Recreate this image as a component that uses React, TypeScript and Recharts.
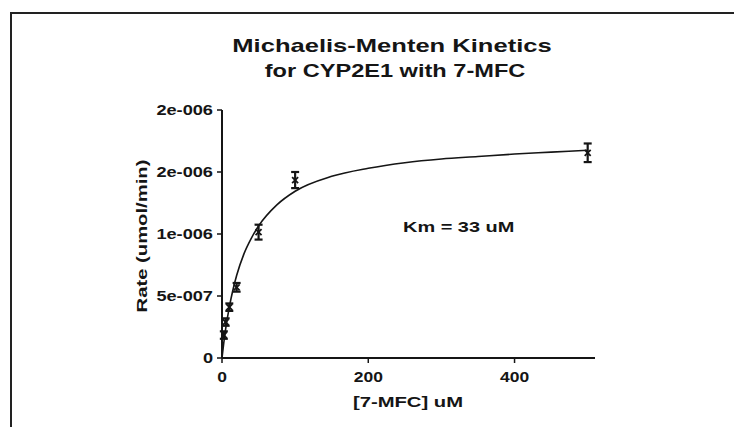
import React from "react";
import { ComposedChart, Line, Scatter, XAxis, YAxis, ErrorBar } from "recharts";

// Measured points: substrate concentration (uM), rate (umol/min), SEM
const concentrations = [2.5, 5, 10, 20, 50, 100, 500];
const rates = [0.185e-6, 0.29e-6, 0.41e-6, 0.57e-6, 1.015e-6, 1.435e-6, 1.655e-6];
const errors = [0.03e-6, 0.03e-6, 0.03e-6, 0.035e-6, 0.06e-6, 0.065e-6, 0.075e-6];

// Fitted curve
const curveX = [0, 2.5, 5, 10, 15, 20, 30, 40, 50, 75, 100, 150, 200, 250, 300, 350, 400, 450, 500];
const curveY = [0, 0.125e-6, 0.235e-6, 0.41e-6, 0.55e-6, 0.665e-6, 0.84e-6, 0.965e-6, 1.065e-6, 1.235e-6, 1.345e-6, 1.465e-6, 1.53e-6, 1.575e-6, 1.605e-6, 1.625e-6, 1.645e-6, 1.66e-6, 1.675e-6];

const xTicks = [0, 200, 400];
const xTickLabels = ["0", "200", "400"];
const yTicks = [0, 5e-7, 1e-6, 1.5e-6, 2e-6];
const yTickLabels = ["0", "5e-007", "1e-006", "2e-006", "2e-006"];

const titleLine1 = "Michaelis-Menten Kinetics";
const titleLine2 = "for CYP2E1 with 7-MFC";
const xLabel = "[7-MFC] uM";
const yLabel = "Rate (umol/min)";
const annotation = "Km = 33 uM";

const pointData = concentrations.map((x, i) => ({ x, y: rates[i], err: errors[i] }));
const curveData = curveX.map((x, i) => ({ x, y: curveY[i] }));

const FONT = "'Liberation Sans', Arial, sans-serif";
const INK = "#151515";

function SText(props: {
  x: number; y: number; text: string; size: number; sx: number; rotate?: number;
  anchor?: "start" | "middle" | "end"; weight?: string;
}) {
  const { x, y, text, size, sx, rotate = 0, anchor = "middle", weight = "bold" } = props;
  return (
    <g transform={`translate(${x},${y}) rotate(${rotate}) scale(${sx},1)`}>
      <text
        x={0}
        y={0}
        textAnchor={anchor}
        dominantBaseline="central"
        fontFamily={FONT}
        fontWeight={weight}
        fontSize={size}
        fill={INK}
      >
        {text}
      </text>
    </g>
  );
}

const YTick = (props: any) => {
  const { x, y, payload } = props;
  const idx = yTicks.indexOf(payload.value);
  const label = idx >= 0 ? yTickLabels[idx] : String(payload.value);
  return <SText x={x - 2} y={y} text={label} size={14} sx={1.3} anchor="end" />;
};

const XTick = (props: any) => {
  const { x, y, payload } = props;
  const idx = xTicks.indexOf(payload.value);
  const label = idx >= 0 ? xTickLabels[idx] : String(payload.value);
  return <SText x={x} y={y + 12} text={label} size={14} sx={1.25} anchor="middle" />;
};

const Cross = (props: any) => {
  const { cx, cy } = props;
  if (cx == null || cy == null) return null;
  const s = 3;
  return (
    <g stroke={INK} strokeWidth={1.8}>
      <line x1={cx - s} y1={cy - s} x2={cx + s} y2={cy + s} />
      <line x1={cx - s} y1={cy + s} x2={cx + s} y2={cy - s} />
    </g>
  );
};

export default function App() {
  const W = 742;
  const H = 427;
  return (
    <div style={{ position: "relative", width: W, height: H, marginLeft: -8, marginTop: -8, background: "#fff", overflow: "hidden" }}>
      <ComposedChart
        width={W}
        height={H}
        margin={{ top: 110, left: 162, right: 147, bottom: 39 }}
      >
        <XAxis
          type="number"
          dataKey="x"
          domain={[0, 510]}
          ticks={xTicks}
          tick={<XTick />}
          tickSize={5}
          height={30}
          axisLine={{ stroke: INK, strokeWidth: 2 }}
          tickLine={{ stroke: INK, strokeWidth: 1.5 }}
          allowDataOverflow
        />
        <YAxis
          type="number"
          dataKey="y"
          domain={[0, 2e-6]}
          ticks={yTicks}
          tick={<YTick />}
          tickSize={5}
          width={60}
          axisLine={{ stroke: INK, strokeWidth: 2 }}
          tickLine={{ stroke: INK, strokeWidth: 1.5 }}
          allowDataOverflow
        />
        <Line
          data={curveData}
          dataKey="y"
          type="monotone"
          stroke={INK}
          strokeWidth={1.6}
          dot={false}
          activeDot={false}
          isAnimationActive={false}
        />
        <Scatter data={pointData} dataKey="y" shape={<Cross />} isAnimationActive={false}>
          <ErrorBar dataKey="err" direction="y" width={4} stroke={INK} strokeWidth={2.2} isAnimationActive={false} />
        </Scatter>
      </ComposedChart>
      <svg width={W} height={H} style={{ position: "absolute", left: 0, top: 0, pointerEvents: "none" }}>
        <line x1={10} y1={13} x2={742} y2={13} stroke="#222" strokeWidth={2} />
        <line x1={11} y1={12} x2={11} y2={427} stroke="#222" strokeWidth={2} />
        <SText x={392} y={46} text={titleLine1} size={18} sx={1.42} weight="bold" />
        <SText x={395} y={71} text={titleLine2} size={18} sx={1.31} weight="bold" />
        <SText x={408} y={402} text={xLabel} size={15} sx={1.35} />
        <SText x={142} y={236} text={yLabel} size={15} sx={1.35} rotate={-90} />
        <SText x={403} y={227} text={annotation} size={15} sx={1.33} anchor="start" />
      </svg>
    </div>
  );
}
